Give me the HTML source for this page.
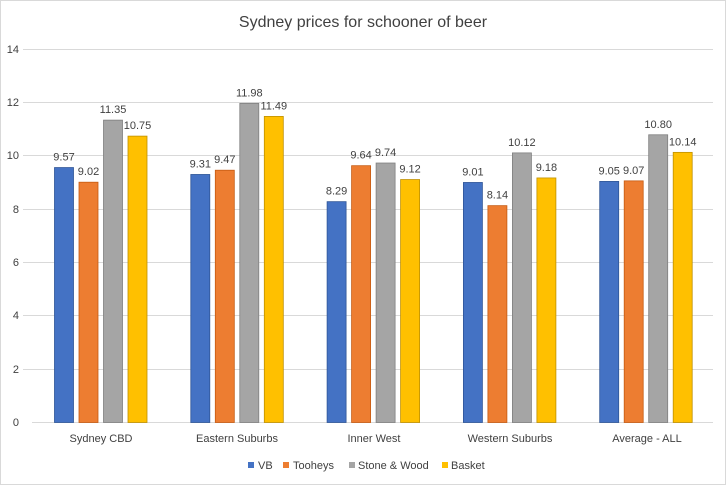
<!DOCTYPE html>
<html><head><meta charset="utf-8"><style>
html,body{margin:0;padding:0;background:#fff;}
svg{display:block;}
text{font-family:"Liberation Sans",sans-serif;fill:#404040;}
</style></head><body>
<svg width="726" height="485" xmlns="http://www.w3.org/2000/svg">
<rect x="0.5" y="0.5" width="725" height="484" fill="#fff" stroke="#d9d9d9"/>
<text x="363" y="27" font-size="16" text-anchor="middle" fill="#404040">Sydney prices for schooner of beer</text>
<g stroke="#d9d9d9" stroke-width="1">
<line x1="23" x2="713" y1="49.5" y2="49.5"/>
<line x1="23" x2="713" y1="102.5" y2="102.5"/>
<line x1="23" x2="713" y1="155.5" y2="155.5"/>
<line x1="23" x2="713" y1="209.5" y2="209.5"/>
<line x1="23" x2="713" y1="262.5" y2="262.5"/>
<line x1="23" x2="713" y1="315.5" y2="315.5"/>
<line x1="23" x2="713" y1="369.5" y2="369.5"/>
<line x1="32" x2="713" y1="422.5" y2="422.5"/>
</g>
<g font-size="11" text-anchor="end">
<text x="19" y="53">14</text><text x="19" y="106">12</text><text x="19" y="159">10</text>
<text x="19" y="213">8</text><text x="19" y="266">6</text><text x="19" y="319">4</text>
<text x="19" y="373">2</text><text x="19" y="426">0</text>
</g>
<g id="bars"></g>
<g font-size="11" text-anchor="middle">
<text x="101" y="442">Sydney CBD</text>
<text x="237" y="442">Eastern Suburbs</text>
<text x="374" y="442">Inner West</text>
<text x="510" y="442">Western Suburbs</text>
<text x="647" y="442">Average - ALL</text>
</g>
<g font-size="11">
<rect x="248" y="462" width="6" height="6" fill="#4472c4"/><text x="258" y="469">VB</text>
<rect x="283" y="462" width="6" height="6" fill="#ed7d31"/><text x="293" y="469">Tooheys</text>
<rect x="349" y="462" width="6" height="6" fill="#a5a5a5"/><text x="358" y="469">Stone &amp; Wood</text>
<rect x="442" y="462" width="6" height="6" fill="#ffc000"/><text x="451" y="469">Basket</text>
</g>
</svg>
<script>
var d=[[9.57,9.02,11.35,10.75],[9.31,9.47,11.98,11.49],[8.29,9.64,9.74,9.12],[9.01,8.14,10.12,9.18],[9.05,9.07,10.80,10.14]];
var c=["#4472c4","#ed7d31","#a5a5a5","#ffc000"],s=["#2f5597","#c55a11","#7f7f7f","#bf9000"];
var g=document.getElementById("bars"),h="";
for(var i=0;i<5;i++){for(var j=0;j<4;j++){var v=d[i][j];var x=54+i*136.3+j*24.5;var y=422.5-v*26.64;
h+='<rect x="'+(x+0.5)+'" y="'+y+'" width="19" height="'+(422.5-y)+'" fill="'+c[j]+'" stroke="'+s[j]+'" stroke-width="0.8"/>';
h+='<text x="'+(x+10)+'" y="'+(y-7)+'" font-size="11" text-anchor="middle">'+v.toFixed(2)+'</text>';}}
g.innerHTML=h;
</script>
</body></html>
